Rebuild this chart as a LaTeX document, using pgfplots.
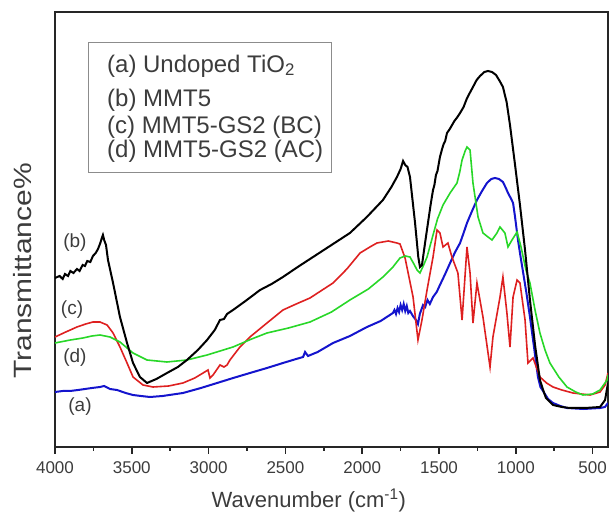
\documentclass[border=0pt]{standalone}
\usepackage{pgfplots}
\pgfplotsset{compat=1.18}
\usepackage{fontspec}
\setmainfont{Liberation Sans}
\definecolor{cred}{RGB}{222,32,32}
\definecolor{cgreen}{RGB}{40,215,40}
\definecolor{cblue}{RGB}{20,20,205}
\definecolor{txt}{RGB}{60,60,60}
\begin{document}
\begin{tikzpicture}[x=1pt,y=1pt]
\path[use as bounding box] (0,0) rectangle (610,516);
\begin{axis}[
  at={(55pt,69pt)}, anchor=south west,
  scale only axis, width=553pt, height=435pt,
  xmin=400, xmax=4000, x dir=reverse, ymin=0, ymax=435,
  xtick={500,1000,...,4000}, minor x tick num=1,
  ytick=\empty, xtick pos=bottom, tick align=outside,
  major tick length=7pt, minor tick length=4pt,
  axis line style={line width=1.5pt, draw=black!85},
  every tick/.append style={line width=1.5pt, black!85},
  /pgf/number format/assume math mode=true,
  /pgf/number format/1000 sep={},
  ticklabel style={font=\fontsize{17}{20}\selectfont, text=txt},
  xticklabel style={anchor=base, yshift=-20pt},
  xlabel={Wavenumber (cm\textsuperscript{-1})},
  xlabel style={font=\fontsize{22}{26}\selectfont, text=txt, at={(axis description cs:0.459,0)}, anchor=base, yshift=-60pt},
  ylabel={\scalebox{1.2}[1]{Transmittance\%}},
  ylabel style={font=\fontsize{25}{30}\selectfont, text=txt, at={(axis description cs:-0.058,0.405)}, anchor=center},
  clip=true,
]
% (a) blue
\addplot[cblue, line width=2pt] coordinates {
(4000,55)(3950,56)(3902,56)(3850,57)(3805,58)(3760,59)(3707,60)(3680,61)(3642,58)(3596,57)(3540,54)(3492,52)(3440,51)(3382,50)(3300,51)(3167,54)(3050,59)(2945,64)(2840,69)(2731,74)(2620,79)(2516,84)(2430,88)(2385,90)(2372,95)(2353,91)(2290,95)(2190,104)(2080,111)(1969,120)(1880,126)(1800,134)(1790,137)(1780,133)(1770,139)(1760,135)(1750,142)(1740,137)(1730,143)(1720,136)(1710,141)(1700,134)(1689,136)(1670,131)(1650,127)(1637,123)(1625,133)(1604,142)(1590,140)(1575,147)(1560,143)(1539,150)(1515,155)(1494,162)(1460,173)(1428,184)(1395,195)(1363,204)(1340,214)(1318,224)(1285,236)(1253,247)(1220,256)(1188,264)(1160,268)(1136,269)(1110,268)(1084,265)(1065,259)(1051,254)(1030,248)(1018,244)(1005,230)(986,207)(970,191)(953,175)(930,153)(908,130)(880,98)(856,70)(840,60)(823,56)(790,48)(758,44)(710,41)(667,39)(560,38)(452,39)(420,40)(400,44)};
% (c) red
\addplot[cred, line width=1.6pt] coordinates {
(4000,110)(3930,115)(3857,120)(3800,123)(3753,125)(3707,125)(3661,122)(3622,114)(3577,100)(3531,84)(3492,70)(3427,62)(3362,60)(3260,61)(3167,64)(3090,69)(3036,74)(3004,77)(2991,69)(2971,72)(2926,82)(2900,80)(2880,82)(2861,87)(2796,100)(2731,110)(2620,124)(2516,137)(2430,143)(2340,149)(2190,164)(2100,178)(2014,194)(1950,200)(1904,204)(1830,206)(1774,204)(1754,203)(1721,189)(1669,150)(1637,107)(1611,127)(1578,157)(1539,190)(1513,217)(1494,214)(1474,200)(1442,204)(1416,190)(1377,174)(1350,127)(1318,200)(1298,174)(1279,124)(1253,164)(1214,130)(1168,80)(1149,110)(1103,150)(1084,170)(1058,134)(1038,100)(1018,150)(992,167)(973,164)(940,127)(921,84)(888,89)(843,70)(800,64)(758,60)(700,57)(628,54)(517,52)(452,55)(419,62)(400,74)};
% (d) green
\addplot[cgreen, line width=1.6pt] coordinates {
(4000,104)(3900,107)(3818,109)(3760,111)(3707,112)(3642,110)(3577,105)(3492,94)(3401,87)(3271,85)(3141,87)(3010,92)(2841,100)(2720,108)(2620,114)(2480,119)(2340,125)(2200,135)(2080,147)(1960,158)(1865,170)(1800,180)(1754,189)(1720,191)(1689,190)(1660,182)(1643,177)(1624,174)(1600,182)(1578,190)(1539,212)(1510,228)(1474,242)(1428,254)(1383,264)(1365,275)(1350,287)(1330,296)(1318,300)(1298,297)(1279,264)(1246,230)(1214,214)(1181,210)(1155,207)(1123,214)(1103,220)(1071,214)(1051,200)(1025,207)(992,215)(966,200)(934,177)(908,164)(875,137)(843,114)(810,97)(778,84)(720,70)(667,60)(610,55)(563,52)(500,53)(452,57)(406,67)(400,72)};
% (b) black
\addplot[black, line width=2pt] coordinates {
(4000,169)(3970,171)(3950,168)(3935,173)(3915,171)(3900,176)(3880,174)(3857,178)(3840,176)(3820,182)(3805,181)(3790,186)(3770,185)(3753,191)(3735,194)(3720,198)(3705,204)(3695,209)(3688,212)(3680,207)(3668,202)(3655,187)(3622,164)(3577,130)(3531,104)(3492,84)(3447,70)(3401,64)(3340,68)(3271,74)(3200,80)(3141,87)(3070,97)(3010,107)(2960,117)(2926,127)(2900,128)(2880,133)(2841,137)(2760,146)(2665,157)(2590,163)(2516,170)(2420,180)(2340,188)(2320,190)(2200,202)(2080,214)(1970,230)(1865,247)(1810,260)(1774,270)(1750,278)(1734,286)(1720,282)(1705,280)(1689,270)(1656,224)(1635,190)(1624,180)(1611,182)(1590,205)(1572,224)(1555,242)(1539,257)(1530,262)(1520,272)(1510,276)(1494,290)(1480,298)(1470,303)(1460,306)(1448,314)(1430,318)(1415,322)(1400,326)(1380,330)(1363,334)(1340,340)(1320,348)(1300,354)(1279,360)(1255,367)(1233,371)(1205,375)(1181,376)(1155,375)(1129,372)(1105,366)(1084,360)(1060,345)(1038,322)(1005,282)(973,242)(940,197)(908,147)(875,102)(843,67)(820,56)(804,49)(758,42)(700,40)(648,39)(550,39)(452,40)(419,47)(400,64)};
% curve labels
\node[font=\fontsize{19}{22}\selectfont, text=txt] at (axis cs:3870,204) {(b)};
\node[font=\fontsize{19}{22}\selectfont, text=txt] at (axis cs:3889,137) {(c)};
\node[font=\fontsize{19}{22}\selectfont, text=txt] at (axis cs:3870,89) {(d)};
\node[font=\fontsize{19}{22}\selectfont, text=txt] at (axis cs:3837,40) {(a)};
% legend box
\draw[black!45, line width=1pt] (axis description cs:0.0597,0.931) rectangle (axis description cs:0.5009,0.632);
\node[anchor=base west, font=\fontsize{24}{28}\selectfont, text=txt, inner sep=0pt] at (axis description cs:0.094,0.862) {(a) Undoped TiO\textsubscript{2}};
\node[anchor=base west, font=\fontsize{24}{28}\selectfont, text=txt, inner sep=0pt] at (axis description cs:0.094,0.7816) {(b) MMT5};
\node[anchor=base west, font=\fontsize{24}{28}\selectfont, text=txt, inner sep=0pt] at (axis description cs:0.094,0.7218) {(c) MMT5-GS2 (BC)};
\node[anchor=base west, font=\fontsize{24}{28}\selectfont, text=txt, inner sep=0pt] at (axis description cs:0.094,0.6644) {(d) MMT5-GS2 (AC)};
\end{axis}
\end{tikzpicture}
\end{document}
